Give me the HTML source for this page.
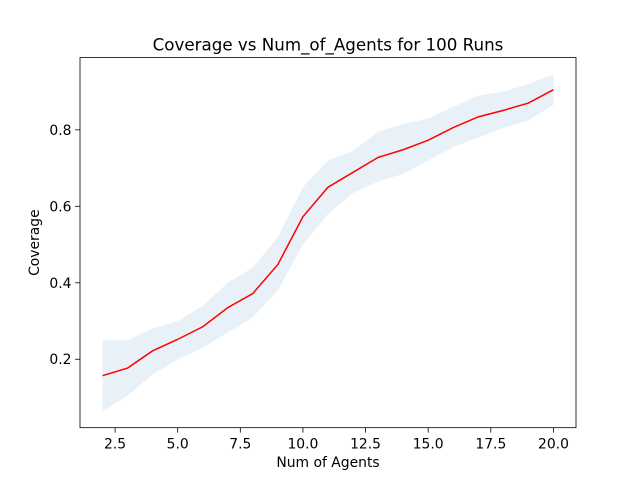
<!DOCTYPE html>
<html><head><meta charset="utf-8"><style>
body{margin:0;background:#fff;}
svg text{font-family:"DejaVu Sans","Liberation Sans",sans-serif;fill:#000;}
</style></head><body>
<svg id="chart" width="640" height="480" xmlns="http://www.w3.org/2000/svg">
<rect width="640" height="480" fill="#fff"/>
<g id="plot"></g>
</svg>
<script>
const xs=[2,3,4,5,6,7,8,9,10,11,12,13,14,15,16,17,18,19,20];
const meanVals=[0.157,0.177,0.222,0.252,0.285,0.335,0.372,0.448,0.573,0.650,0.689,0.728,0.748,0.773,0.806,0.834,0.851,0.870,0.905];
const upperVals=[0.25,0.25,0.28,0.30,0.34,0.40,0.44,0.52,0.65,0.72,0.745,0.795,0.815,0.83,0.86,0.89,0.90,0.92,0.945];
const lowerVals=[0.065,0.105,0.16,0.20,0.23,0.27,0.31,0.38,0.50,0.58,0.635,0.665,0.685,0.72,0.755,0.78,0.805,0.825,0.865];
const xTicks=[2.5,5.0,7.5,10.0,12.5,15.0,17.5,20.0];
const yTicks=[0.2,0.4,0.6,0.8];

const L=80,R=576,T=57.6,B=427.68;
const xmin0=Math.min(...xs),xmax0=Math.max(...xs);
const ymin0=Math.min(...lowerVals),ymax0=Math.max(...upperVals);
const xm=(xmax0-xmin0)*0.05,ym=(ymax0-ymin0)*0.05;
const xmin=xmin0-xm,xmax=xmax0+xm,ymin=ymin0-ym,ymax=ymax0+ym;
const X=v=>L+(v-xmin)/(xmax-xmin)*(R-L);
const Y=v=>B-(v-ymin)/(ymax-ymin)*(B-T);
const NS='http://www.w3.org/2000/svg';
const g=document.getElementById('plot');
function mk(tag,attrs,txt){const e=document.createElementNS(NS,tag);for(const k in attrs)e.setAttribute(k,attrs[k]);if(txt!==undefined)e.textContent=txt;g.appendChild(e);return e;}

let d='M'+xs.map((x,i)=>X(x)+','+Y(upperVals[i])).join(' L');
d+=' L'+xs.slice().reverse().map((x,j)=>{const i=xs.length-1-j;return X(x)+','+Y(lowerVals[i]);}).join(' L')+' Z';
const band=mk('path',{d:d,fill:'#1f77b4','fill-opacity':0.1,stroke:'none'});


const line=mk('polyline',{points:xs.map((x,i)=>X(x)+','+Y(meanVals[i])).join(' '),fill:'none',stroke:'#ff0000','stroke-width':1.5});


const frame=mk('rect',{x:L,y:T,width:R-L,height:B-T,fill:'none',stroke:'#000','stroke-width':0.8});


xTicks.forEach(t=>{
  const tk=mk('line',{x1:X(t),x2:X(t),y1:B,y2:B+4.9,stroke:'#000','stroke-width':0.8});
  
  
  const lb=mk('text',{x:X(t),y:B+21,'text-anchor':'middle','font-size':13.9},t.toFixed(1));
  
  
});
yTicks.forEach(t=>{
  const tk=mk('line',{x1:L-4.9,x2:L,y1:Y(t),y2:Y(t),stroke:'#000','stroke-width':0.8});
  
  
  const lb=mk('text',{x:L-8.5,y:Y(t)+5,'text-anchor':'end','font-size':13.9},t.toFixed(1));
  
  
});
const title=mk('text',{x:(L+R)/2,y:T-7,'text-anchor':'middle','font-size':16.7},'Coverage vs Num_of_Agents for 100 Runs');


const xl=mk('text',{x:(L+R)/2,y:467,'text-anchor':'middle','font-size':13.9},'Num of Agents');


const yl=mk('text',{x:0,y:0,'text-anchor':'middle','font-size':13.9,transform:'translate(39,'+((T+B)/2)+') rotate(-90)'},'Coverage');


</script>
</body></html>
